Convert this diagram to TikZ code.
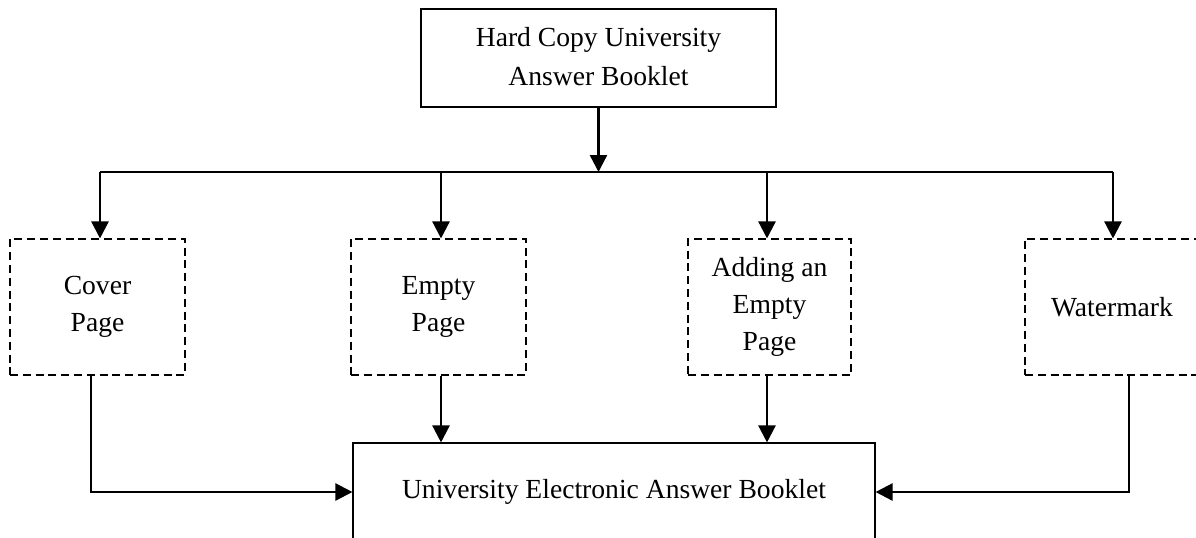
\documentclass[tikz,border=0pt]{standalone}
\usepackage{fontspec}
\setmainfont{Liberation Serif}
\usetikzlibrary{arrows.meta,calc}

\tikzset{
  solidbox/.style={draw=black, line width=0.55pt, align=center, inner sep=0pt,
    font=\fontsize{13.8}{19}\selectfont},
  dashbox/.style={draw=black, line width=0.55pt, dash pattern=on 4pt off 2.4pt,
    align=center, inner sep=0pt, font=\fontsize{13.8}{18.5}\selectfont},
  flow/.style={line width=1.2pt, -{Triangle[length=8.5pt,width=8.5pt]}},
  bus/.style={line width=1.2pt}
}

\begin{document}
\begin{tikzpicture}[x=0.5pt, y=-0.5pt]
\useasboundingbox (0,0) rectangle (1196,537);

% source and target booklets
\node[solidbox, minimum width=177.5pt, minimum height=49pt] (top) at (598.5,58)
  {\raisebox{1.5pt}{\begin{tabular}{@{}c@{}}Hard Copy University\\[0.5pt]Answer Booklet\end{tabular}}};
\node[solidbox, minimum width=261pt, minimum height=49pt] (bottom) at (614,492)
  {University Electronic Answer Booklet};

% processing steps
\node[dashbox, minimum width=87.5pt, minimum height=68pt] (cover) at (97.5,307)
  {Cover\\Page};
\node[dashbox, minimum width=87.5pt, minimum height=68pt] (empty) at (438.5,307)
  {Empty\\Page};
\node[dashbox, minimum width=81.5pt, minimum height=68pt] (adding) at (769.5,307)
  {Adding an\\Empty\\Page};
\node[dashbox, minimum width=87pt, minimum height=68pt] (water) at (1112,307)
  {Watermark};

% distribution bus
\coordinate (busy) at (0,172);
\coordinate (bcover) at ($(cover.north |- busy)+(2.5,0)$);
\coordinate (bempty) at ($(empty.north |- busy)+(2.5,0)$);
\coordinate (badding) at ($(adding.north |- busy)+(-2.5,0)$);
\coordinate (bwater) at ($(water.north |- busy)+(1,0)$);

\draw[flow] (top.south) -- (top.south |- busy);
\draw[bus] (bcover) -- (bwater);
\draw[flow] (bcover) -- (bcover |- cover.north);
\draw[flow] (bempty) -- (bempty |- empty.north);
\draw[flow] (badding) -- (badding |- adding.north);
\draw[flow] (bwater) -- (bwater |- water.north);

% collecting into the electronic booklet
\coordinate (ocover) at ($(cover.south)+(-6.5,0)$);
\coordinate (oempty) at ($(empty.south)+(2.5,0)$);
\coordinate (oadding) at ($(adding.south)+(-2.5,0)$);
\coordinate (owater) at ($(water.south)+(17,0)$);

\draw[flow] (ocover) |- (bottom.west);
\draw[flow] (oempty) -- (oempty |- bottom.north);
\draw[flow] (oadding) -- (oadding |- bottom.north);
\draw[flow] (owater) |- (bottom.east);
\end{tikzpicture}
\end{document}
